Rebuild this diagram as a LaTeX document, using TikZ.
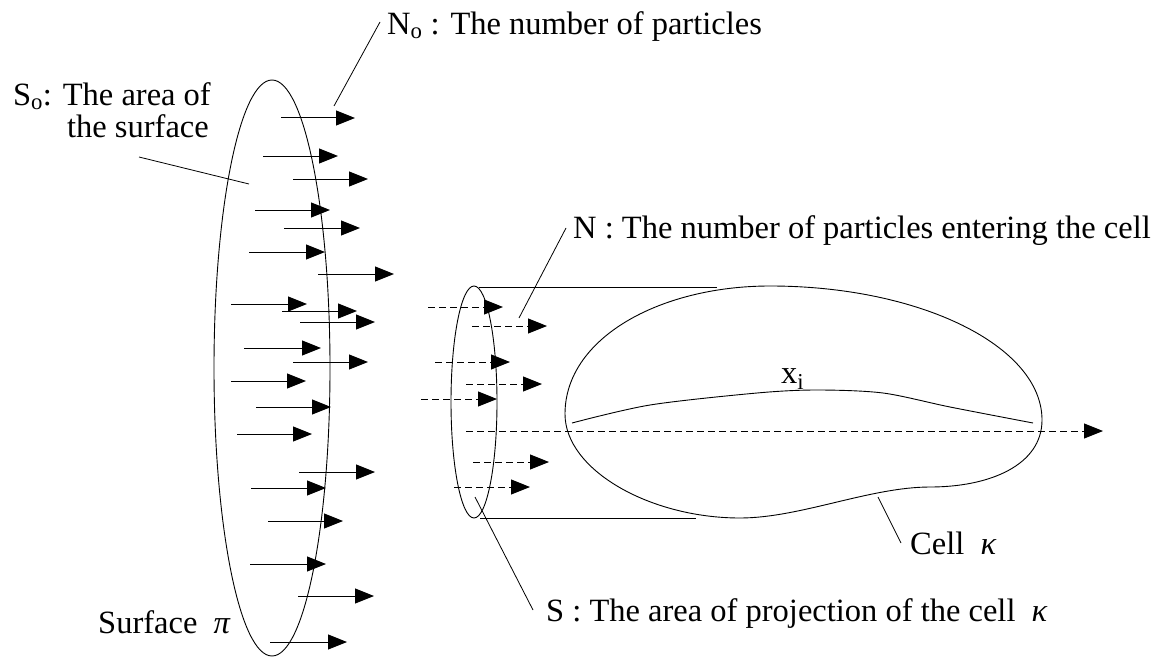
\documentclass[tikz,border=0pt]{standalone}
\usepackage{fontspec}
\setmainfont{Liberation Serif}
\usetikzlibrary{arrows.meta}
\tikzset{
  lbl/.style={font=\fontsize{32.5}{38}\selectfont, inner sep=0pt},
  outline/.style={line width=0.9pt},
  leader/.style={line width=0.8pt},
  parr/.style={line width=1pt, -{Triangle[length=19pt,width=15pt]}},
  darr/.style={line width=1pt, dash pattern=on 7pt off 4pt, -{Triangle[length=19pt,width=15pt]}},
}
\begin{document}
\begin{tikzpicture}[x=1pt,y=-1pt]
\useasboundingbox (0,0) rectangle (1161,658);

% large surface pi
\draw[outline] (272,368) ellipse [x radius=58pt, y radius=288pt];
% small projection ellipse
\draw[outline] (474,402) ellipse [x radius=23pt, y radius=116pt];
% projection tangent lines
\coordinate (tt1) at (479,287); \coordinate (tt2) at (717,287);
\coordinate (tb1) at (480,518); \coordinate (tb2) at (696,518);
\draw[outline] (tt1) -- (tt2);
\draw[outline] (tb1) -- (tb2);

% cell kappa
\draw[outline] (565,414)
  .. controls (565,338) and (660,286) .. (770,286)
  .. controls (920,286) and (1042,346) .. (1042,420)
  .. controls (1042,465) and (990,487) .. (930,487)
  .. controls (870,487) and (800,518) .. (740,518)
  .. controls (650,518) and (565,470) .. cycle;

% x_i curve
\draw[outline] plot[smooth, tension=0.5] coordinates {
 (572,423) (650,405) (757,393) (817,390) (883,393) (950,407) (1033,423)};
\node[lbl, anchor=base west] (xi) at (781,383) {x\textsubscript{i}};

% solid arrows from surface pi
\foreach \ya/\xa/\xb in {118/281/355, 156/263/338, 179/293/368, 210/255/330,
  228/284/360, 252/249/325, 274/318/394, 304/231/307, 311/282/357,
  322/300/375, 348/244/321, 362/293/368, 381/231/306, 407/256/331,
  434/237/312, 472/299/375, 488/251/326, 521/268/343, 564/250/326,
  596/298/374, 642/270/347}
  \draw[parr] (\xa,\ya) -- (\xb,\ya);

% dashed arrows at the projection
\foreach \ya/\xa/\xb in {307/428/503, 326/472/547, 362/435/510, 384/466/542,
  399/421/497, 462/473/549, 487/454/530}
  \draw[darr] (\xa,\ya) -- (\xb,\ya);
% dashed axis
\coordinate (ax1) at (466,431); \coordinate (ax2) at (1103,431);
\draw[darr] (ax1) -- (ax2);

% labels
\node[lbl, anchor=base west] (n0) at (387,35) {N\textsubscript{o} : The number of particles};
\coordinate (n0a) at (334,106); \coordinate (n0b) at (380,22);
\draw[leader] (n0a) -- (n0b);

\node[lbl, anchor=base east] (s0a) at (211,106) {S\textsubscript{o}: The area of};
\node[lbl, anchor=base east] (s0b) at (209,138) {the surface};
\coordinate (s0l1) at (139,157); \coordinate (s0l2) at (249,184);
\draw[leader] (s0l1) -- (s0l2);

\node[lbl, anchor=base west] (nlab) at (573,238) {N : The number of particles entering the cell};
\coordinate (nl1) at (519,318); \coordinate (nl2) at (566,228);
\draw[leader] (nl1) -- (nl2);

\node[lbl, anchor=base west] (slab) at (546,621) {S : The area of projection of the cell\ \ \textit{κ}};
\coordinate (sl1) at (475,497); \coordinate (sl2) at (533,610);
\draw[leader] (sl1) -- (sl2);

\node[lbl, anchor=base west] (cell) at (910,554) {Cell\ \ \textit{κ}};
\coordinate (cl1) at (878,497); \coordinate (cl2) at (901,543);
\draw[leader] (cl1) -- (cl2);

\node[lbl, anchor=base west] (surf) at (98,633) {Surface\ \ \textit{π}};
\end{tikzpicture}
\end{document}
